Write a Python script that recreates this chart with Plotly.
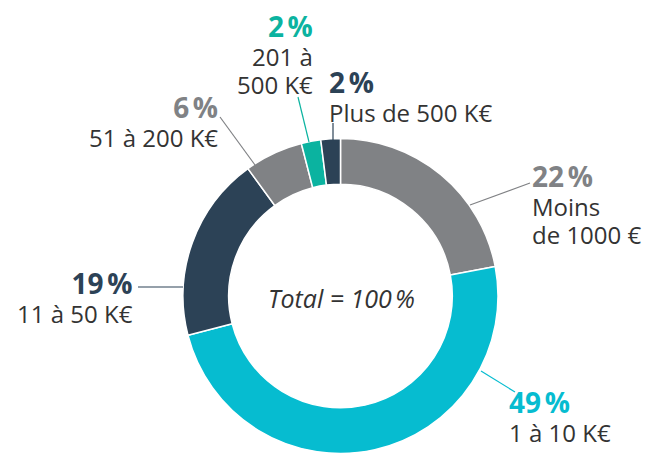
import plotly.graph_objects as go

# ---- data ----
categories = ["Moins de 1000 €", "1 à 10 K€", "11 à 50 K€", "51 à 200 K€", "201 à 500 K€", "Plus de 500 K€"]
label_lines = [["Moins", "de 1000 €"], ["1 à 10 K€"], ["11 à 50 K€"], ["51 à 200 K€"], ["201 à", "500 K€"], ["Plus de 500 K€"]]
values = [22, 49, 19, 6, 2, 2]
center_text = "Total = 100\u202f%"

# ---- style ----
colors = ["#808285", "#06BCD0", "#2C4256", "#808285", "#0BB3A0", "#2C4256"]
TEXT = "#333333"
FONT = "Open Sans"
W, H = 660, 454
OFF = 8  # page body margin
CX, CY, R = 340.5, 296.0, 157.5

def px(x, y):
    return (x - OFF) / W, 1 - (y - OFF) / H

# label layout (pixel positions): block anchor, side, leader line
label_pos = [
    dict(at=(531, 204), side="left", line=((470, 205), (530, 183))),
    dict(at=(508, 416), side="left", line=((481, 371), (515, 392))),
    dict(at=(134, 297), side="right", line=((138, 287), (183, 287))),
    dict(at=(219, 121), side="right", line=((220, 117), (255, 165))),
    dict(at=(314, 54), side="right", line=((298, 97), (309, 142))),
    dict(at=(328, 96), side="left", line=((333, 123), (333, 140))),
]

cxp, cyp = CX - OFF, CY - OFF
fig = go.Figure(go.Pie(
    labels=categories,
    values=values,
    sort=False,
    direction="clockwise",
    rotation=0,
    hole=0.71,
    marker=dict(colors=colors, line=dict(color="white", width=1.5)),
    textinfo="none",
    hoverinfo="skip",
    showlegend=False,
    domain=dict(x=[(cxp - R) / W, (cxp + R) / W], y=[(H - cyp - R) / H, (H - cyp + R) / H]),
))

annotations = []
shapes = []
for v, lines, col, lp in zip(values, label_lines, colors, label_pos):
    pct = f"<span style='font-size:28px;color:{col}'><b>{v}\u202f%</b></span>"
    desc = "<br>".join(f"<span style='font-size:24px'>{ln}</span>" for ln in lines)
    x, y = px(*lp["at"])
    annotations.append(dict(
        x=x, y=y, xref="paper", yref="paper", xanchor=lp["side"], yanchor="middle",
        text=pct + "<br>" + desc, showarrow=False, align=lp["side"],
        font=dict(family=FONT, size=22, color=TEXT), borderpad=0,
    ))
    (x0, y0), (x1, y1) = lp["line"]
    a0, b0 = px(x0, y0)
    a1, b1 = px(x1, y1)
    shapes.append(dict(type="line", xref="paper", yref="paper", x0=a0, y0=b0, x1=a1, y1=b1,
                       line=dict(color=col, width=1.2)))

cx, cy = px(CX + 1, 298)
annotations.append(dict(
    x=cx, y=cy, xref="paper", yref="paper", xanchor="center", yanchor="middle",
    text=f"<i>{center_text}</i>", showarrow=False,
    font=dict(family=FONT, size=25, color=TEXT),
))

fig.update_layout(
    width=W, height=H,
    margin=dict(l=0, r=0, t=0, b=0),
    paper_bgcolor="white", plot_bgcolor="white",
    annotations=annotations, shapes=shapes,
)

fig.write_html("out.html")
